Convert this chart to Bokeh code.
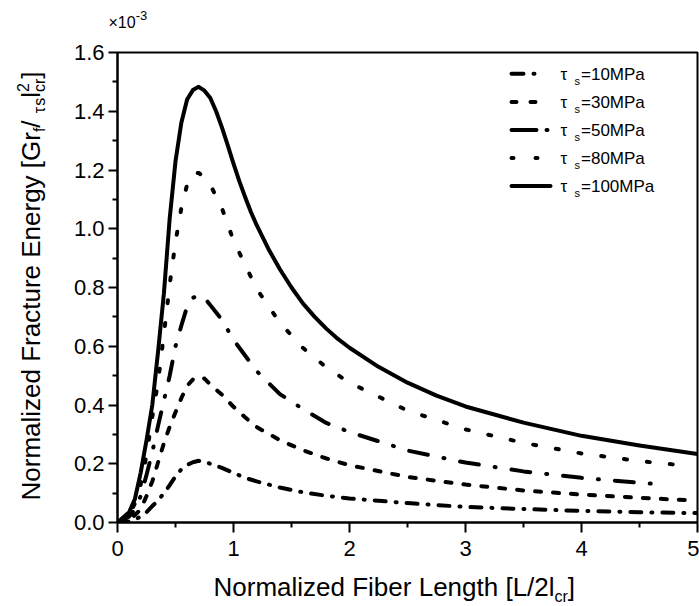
import math
from bokeh.plotting import figure
from bokeh.layouts import column
from bokeh.models import Range1d, Label, Arrow, FixedTicker, PrintfTickFormatter
from bokeh.embed import file_html
from bokeh.resources import INLINE

# ---------------- data ----------------
x_10 = [0, 0.1, 0.15, 0.2, 0.25, 0.3, 0.35, 0.4, 0.45, 0.5, 0.55, 0.6, 0.65, 0.7, 0.75, 0.8,
        0.9, 1.0, 1.1, 1.2, 1.4, 1.6, 1.8, 2.0, 2.5, 3.0, 3.5, 4.0, 4.5, 5.0]
y_10 = [0, 0.004, 0.01, 0.02, 0.035, 0.056, 0.075, 0.10, 0.127, 0.157, 0.181, 0.196, 0.205, 0.21,
        0.207, 0.2, 0.186, 0.169, 0.152, 0.14, 0.119, 0.103, 0.091, 0.082, 0.066, 0.053, 0.046,
        0.0395, 0.035, 0.032]

x_30 = [0, 0.1, 0.15, 0.2, 0.25, 0.3, 0.35, 0.4, 0.45, 0.5, 0.55, 0.6, 0.65, 0.7, 0.75, 0.8,
        0.9, 1.0, 1.1, 1.2, 1.4, 1.6, 1.8, 2.0, 2.5, 3.0, 3.5, 4.0, 4.5, 4.92]
y_30 = [0, 0.01, 0.025, 0.045, 0.09, 0.14, 0.205, 0.27, 0.326, 0.375, 0.423, 0.465, 0.487, 0.495,
        0.49, 0.47, 0.435, 0.394, 0.358, 0.325, 0.28, 0.246, 0.218, 0.195, 0.155, 0.129, 0.109,
        0.095, 0.084, 0.076]

x_50 = [0, 0.1, 0.15, 0.2, 0.25, 0.3, 0.35, 0.4, 0.45, 0.5, 0.55, 0.6, 0.65, 0.7, 0.75, 0.8,
        0.9, 1.0, 1.2, 1.4, 1.6, 1.8, 2.0, 2.5, 3.0, 3.5, 4.0, 4.5, 4.72]
y_50 = [0, 0.02, 0.045, 0.09, 0.162, 0.24, 0.33, 0.415, 0.50, 0.60, 0.67, 0.735, 0.765, 0.773,
        0.765, 0.74, 0.69, 0.622, 0.515, 0.437, 0.386, 0.339, 0.308, 0.245, 0.204, 0.174, 0.152,
        0.135, 0.129]

x_80 = [0, 0.1, 0.15, 0.2, 0.25, 0.3, 0.35, 0.4, 0.45, 0.5, 0.55, 0.6, 0.65, 0.7, 0.75, 0.8,
        0.9, 1.0, 1.2, 1.4, 1.6, 1.8, 2.0, 2.5, 3.0, 3.5, 4.0, 4.5, 4.86]
y_80 = [0, 0.025, 0.065, 0.13, 0.23, 0.36, 0.48, 0.64, 0.81, 0.955, 1.07, 1.15, 1.19, 1.19,
        1.175, 1.15, 1.07, 0.96, 0.795, 0.68, 0.594, 0.528, 0.476, 0.381, 0.317, 0.271, 0.235,
        0.209, 0.195]

x_100 = [0, 0.1, 0.15, 0.2, 0.25, 0.3, 0.35, 0.4, 0.45, 0.5, 0.55, 0.6, 0.65, 0.7, 0.75, 0.8,
         0.85, 0.9, 0.95, 1.0, 1.05, 1.1, 1.15, 1.2, 1.3, 1.4, 1.5, 1.6, 1.7, 1.8, 1.9, 2.0,
         2.25, 2.5, 2.75, 3.0, 3.5, 4.0, 4.5, 5.0]
y_100 = [0, 0.035, 0.08, 0.17, 0.28, 0.40, 0.583, 0.78, 1.035, 1.23, 1.36, 1.44, 1.472, 1.483,
         1.47, 1.445, 1.40, 1.345, 1.285, 1.222, 1.162, 1.108, 1.057, 1.012, 0.932, 0.862,
         0.80, 0.745, 0.70, 0.66, 0.625, 0.595, 0.53, 0.476, 0.432, 0.395, 0.34, 0.295,
         0.262, 0.233]

series_x = [x_10, x_30, x_50, x_80, x_100]
series_y = [y_10, y_30, y_50, y_80, y_100]
legend_values = ["=10MPa", "=30MPa", "=50MPa", "=80MPa", "=100MPa"]

x_ticks = [0, 1, 2, 3, 4, 5]
x_minor = [0.5, 1.5, 2.5, 3.5, 4.5]
y_ticks = [0.0, 0.2, 0.4, 0.6, 0.8, 1.0, 1.2, 1.4, 1.6]
y_minor = [0.1, 0.3, 0.5, 0.7, 0.9, 1.1, 1.3, 1.5]

# ---------------- styles ----------------
curve_dash = ["11 10 1 10", "6 12", "19 16 1 16", "3 20", "solid"]
legend_dash = ["12 10 1 60", "5 14 5 60", "25 10 1 60", "2 22 2 60", "solid"]
FONT = "Liberation Sans"
BASE_CORR = 0.33   # baseline correction (fraction of font size)

W, H = 699, 606
BL, BR, BT, BB = 117, 2, 52, 84
FX0, FX1 = BL, W - BR
FY0, FY1 = BT, H - BB
XMIN, XMAX, YMIN, YMAX = 0.0, 5.0, 0.0, 1.6


def X(px):
    return XMIN + (px - FX0) / (FX1 - FX0) * (XMAX - XMIN)


def Y(py):
    return YMIN + (FY1 - py) / (FY1 - FY0) * (YMAX - YMIN)


def no_align(fig):
    if "frame_align" in fig.properties():
        fig.frame_align = False


p = figure(width=W, height=H, output_backend="svg", toolbar_location=None,
           x_range=Range1d(XMIN, XMAX), y_range=Range1d(YMIN, YMAX),
           min_border_left=BL, min_border_right=BR, min_border_top=BT, min_border_bottom=BB)
no_align(p)
p.grid.visible = False
p.outline_line_color = "black"
p.outline_line_width = 2
p.background_fill_color = "white"
p.border_fill_color = "white"

for ax in (p.xaxis[0], p.yaxis[0]):
    ax.axis_line_width = 2
    ax.axis_line_color = "black"
    ax.major_tick_line_width = 2
    ax.minor_tick_line_width = 2
    ax.major_tick_line_color = "black"
    ax.minor_tick_line_color = "black"
    ax.major_tick_in = 0
    ax.minor_tick_in = 0
    ax.major_label_text_font = FONT
    ax.major_label_text_font_size = "22px"
    ax.major_label_text_color = "black"

p.xaxis.ticker = FixedTicker(ticks=x_ticks, minor_ticks=x_minor)
p.yaxis.ticker = FixedTicker(ticks=y_ticks, minor_ticks=y_minor)
p.yaxis.formatter = PrintfTickFormatter(format="%.1f")
p.xaxis.major_tick_out = 10
p.xaxis.minor_tick_out = 5
p.yaxis.major_tick_out = 9
p.yaxis.minor_tick_out = 5
p.xaxis.major_label_standoff = 8
p.yaxis.major_label_standoff = 4

for xs, ys, d in zip(series_x, series_y, curve_dash):
    p.line(xs, ys, line_color="black", line_width=4, line_dash=d, line_cap="round",
           line_join="round")


def put_main(text, px, py, size):
    py = py - BASE_CORR * size
    p.add_layout(Label(x=X(px), y=Y(py), text=text, text_font=FONT,
                       text_font_size=f"{size}px", text_color="black",
                       text_align="left", text_baseline="alphabetic"))


# legend (inside the frame)
row_y = [73.3, 101.5, 129.5, 157.5, 185.5]
for ry, lab, d in zip(row_y, legend_values, legend_dash):
    p.add_layout(Arrow(x_start=X(511), y_start=Y(ry), x_end=X(550), y_end=Y(ry),
                       end=None, start=None, line_color="black", line_width=4,
                       line_dash=d, line_cap="round"))
    put_main("\u03c4", 560, ry + 6, 17)
    put_main("s", 574, ry + 11, 11)
    put_main(lab, 580.5, ry + 6, 17)

# ---------------- overlay for texts outside the frame ----------------
ov = figure(width=W, height=H, output_backend="svg", toolbar_location=None,
            x_range=Range1d(0, W), y_range=Range1d(H, 0), min_border=0,
            min_border_left=0, min_border_right=0, min_border_top=0, min_border_bottom=0,
            x_axis_type=None, y_axis_type=None)
no_align(ov)
ov.outline_line_color = None
ov.background_fill_alpha = 0
ov.border_fill_alpha = 0
ov.styles = {"position": "absolute", "left": "0px", "top": "0px"}

WID = {' ': 278, 'N': 722, 'o': 556, 'r': 333, 'm': 833, 'a': 556, 'l': 222, 'i': 222,
       'z': 500, 'e': 556, 'd': 556, 'F': 611, 'c': 500, 't': 278, 'u': 556, 'E': 667,
       'n': 556, 'g': 556, 'y': 500, '[': 278, ']': 278, 'G': 778, 'f': 278, '/': 278,
       's': 500, 'b': 556, 'L': 556, 'h': 556, '2': 556, '1': 556, '0': 556, '3': 556,
       '=': 584, 'M': 833, 'P': 667, '\u00d7': 584, '-': 333, '\u03c4': 460}


def tw(s, size):
    return sum(WID.get(ch, 556) for ch in s) * size / 1000.0


def put(text, px, py, size, angle=0.0):
    if angle == 0.0:
        py = py - BASE_CORR * size
    else:
        px = px - BASE_CORR * size
    ov.add_layout(Label(x=px, y=py, text=text, angle=angle,
                        text_font=FONT, text_font_size=f"{size}px", text_color="black",
                        text_align="left", text_baseline="alphabetic"))


def rich_h(pieces, px, py):
    cur = px
    for text, size, shift, adv in pieces:
        put(text, cur, py + shift, size)
        if adv:
            cur += tw(text, size)


def rich_v(pieces, px, py):
    cur = py
    for text, size, shift, adv in pieces:
        put(text, px + shift, cur, size, angle=math.pi / 2)
        if adv:
            cur -= tw(text, size)


rich_h([("Normalized Fiber Length [L/2l", 26, 0, True),
        ("cr", 16, 6, True),
        ("]", 26, 0, True)], 213, 595)

rich_v([("Normalized Fracture Energy [Gr", 26, 0, True),
        ("f", 16, 5, True),
        (" /", 26, 0, True),
        ("\u03c4", 16, 5, True),
        ("s", 16, 5, True),
        ("l", 26, 0, True),
        ("2", 16, -11, False),
        ("cr", 16, 5, True),
        ("]", 26, 0, True)], 39, 500)

rich_h([("\u00d710", 16, 0, True), ("-3", 13, -8, True)], 108, 27)

layout = column(p, ov)
open("out.html", "w").write(file_html(layout, INLINE))
